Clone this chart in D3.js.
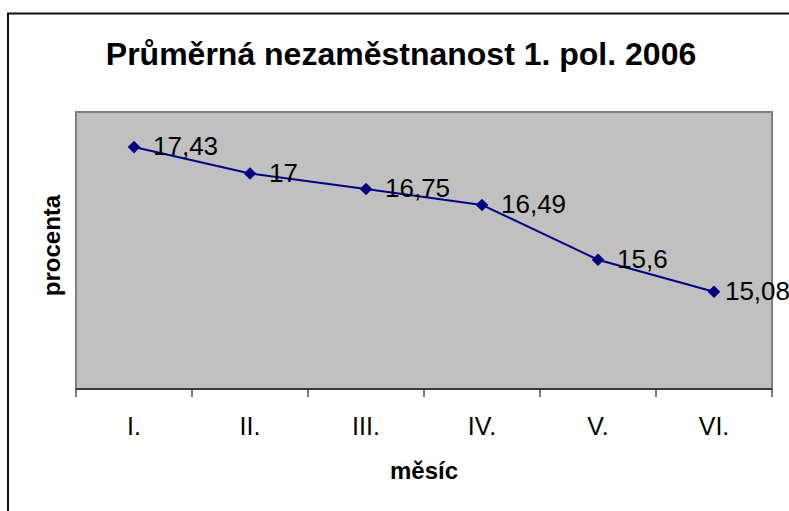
<!DOCTYPE html>
<html>
<head>
<meta charset="utf-8">
<script src="https://cdn.jsdelivr.net/npm/d3@7"></script>
<style>
  html, body { margin: 0; padding: 0; background: #fff; }
  svg { display: block; }
</style>
</head>
<body>
<div id="chart"></div>
<script>
// chart data
const months = ['I.', 'II.', 'III.', 'IV.', 'V.', 'VI.'];
const rates = [17.43, 17, 16.75, 16.49, 15.6, 15.08];
const rateLabels = ['17,43', '17', '16,75', '16,49', '15,6', '15,08'];
const yDomain = [13.5, 18];

const width = 789;
const height = 511;
const plot = { left: 76, right: 772, top: 112, bottom: 389 };
const font = 'Arial, "Liberation Sans", sans-serif';

const svg = d3
  .select('#chart')
  .append('svg')
  .attr('width', width)
  .attr('height', height);

// chart area border (runs off the right and bottom edge)
svg
  .append('rect')
  .attr('x', 8)
  .attr('y', 13.5)
  .attr('width', width + 20)
  .attr('height', height + 20)
  .attr('fill', '#fff')
  .attr('stroke', '#111')
  .attr('stroke-width', 2);

const x = d3
  .scaleBand()
  .domain(months)
  .range([plot.left, plot.right])
  .padding(0);

const y = d3.scaleLinear().domain(yDomain).range([plot.bottom, plot.top]);

// plot area
svg
  .append('rect')
  .attr('x', plot.left)
  .attr('y', plot.top)
  .attr('width', plot.right - plot.left)
  .attr('height', plot.bottom - plot.top)
  .attr('fill', '#c0c0c0')
  .attr('stroke', '#808080')
  .attr('stroke-width', 2);

// x axis: ticks sit between categories, like Excel
const xAxis = svg
  .append('g')
  .attr('transform', `translate(0,${plot.bottom})`);

xAxis
  .append('line')
  .attr('x1', plot.left)
  .attr('x2', plot.right)
  .attr('stroke', '#222')
  .attr('stroke-width', 1.5);

const tickPos = months.map(m => x(m)).concat([x(months[months.length - 1]) + x.bandwidth()]);
xAxis
  .selectAll('line.tick')
  .data(tickPos)
  .join('line')
  .attr('class', 'tick')
  .attr('x1', d => d)
  .attr('x2', d => d)
  .attr('y1', 0)
  .attr('y2', 8)
  .attr('stroke', '#222')
  .attr('stroke-width', 1.2);

xAxis
  .selectAll('text')
  .data(months)
  .join('text')
  .attr('x', d => x(d) + x.bandwidth() / 2)
  .attr('y', 46)
  .attr('text-anchor', 'middle')
  .attr('font-family', font)
  .attr('font-size', 25)
  .attr('fill', '#000')
  .text(d => d);

// title
svg
  .append('text')
  .attr('x', 401)
  .attr('y', 65)
  .attr('text-anchor', 'middle')
  .attr('font-family', font)
  .attr('font-weight', 'bold')
  .attr('font-size', 32)
  .text('Průměrná nezaměstnanost 1. pol. 2006');

// axis titles
svg
  .append('text')
  .attr('x', (plot.left + plot.right) / 2)
  .attr('y', 479)
  .attr('text-anchor', 'middle')
  .attr('font-family', font)
  .attr('font-weight', 'bold')
  .attr('font-size', 24)
  .text('měsíc');

svg
  .append('text')
  .attr('transform', 'translate(60,245.5) rotate(-90)')
  .attr('text-anchor', 'middle')
  .attr('font-family', font)
  .attr('font-weight', 'bold')
  .attr('font-size', 24)
  .text('procenta');

// line
const points = months.map((m, i) => ({ m, v: rates[i], label: rateLabels[i] }));
const cx = d => x(d.m) + x.bandwidth() / 2;

svg
  .append('path')
  .datum(points)
  .attr('fill', 'none')
  .attr('stroke', '#000080')
  .attr('stroke-width', 2)
  .attr('d', d3.line().x(cx).y(d => y(d.v)));

// diamond markers
const r = 6.3;
svg
  .append('g')
  .selectAll('path')
  .data(points)
  .join('path')
  .attr('transform', d => `translate(${cx(d)},${y(d.v)})`)
  .attr('d', `M0,${-r}L${r},0L0,${r}L${-r},0Z`)
  .attr('fill', '#000080');

// data labels, pushed back inside the chart edge when they would overflow
svg
  .append('g')
  .selectAll('text')
  .data(points)
  .join('text')
  .attr('x', d => cx(d) + 19)
  .attr('y', d => y(d.v))
  .attr('dy', '0.32em')
  .attr('font-family', font)
  .attr('font-size', 26)
  .attr('fill', '#000')
  .text(d => d.label)
  .each(function () {
    const t = d3.select(this);
    const w = this.getComputedTextLength();
    const x0 = +t.attr('x');
    if (x0 + w > width + 1) t.attr('x', width + 1 - w);
  });
</script>
</body>
</html>
